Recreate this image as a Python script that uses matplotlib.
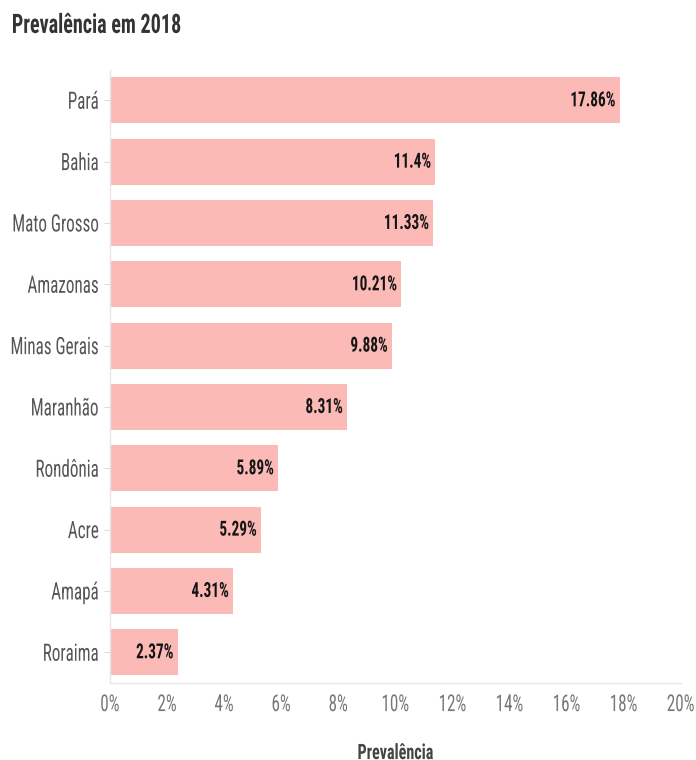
import matplotlib
matplotlib.use("Agg")
import matplotlib.pyplot as plt
from matplotlib import font_manager
from matplotlib.patheffects import AbstractPathEffect
from matplotlib.transforms import Affine2D

names = {f.name for f in font_manager.fontManager.ttflist}
narrow = [n for n in ["Roboto Condensed", "Liberation Sans Narrow", "Roboto"] if n in names]
plt.rcParams['font.family'] = narrow[:1] + ['DejaVu Sans']

states = ["Pará", "Bahia", "Mato Grosso", "Amazonas", "Minas Gerais",
          "Maranhão", "Rondônia", "Acre", "Amapá", "Roraima"]
values = [17.86, 11.4, 11.33, 10.21, 9.88, 8.31, 5.89, 5.29, 4.31, 2.37]
value_labels = ["17.86%", "11.4%", "11.33%", "10.21%", "9.88%",
                "8.31%", "5.89%", "5.29%", "4.31%", "2.37%"]
xticks = [0, 2, 4, 6, 8, 10, 12, 14, 16, 18, 20]
xtick_labels = [f"{t}%" for t in xticks]


class StretchY(AbstractPathEffect):
    """Stretch glyphs vertically around their cap-height middle."""
    def __init__(self, sy):
        super().__init__()
        self.sy = sy

    def draw_path(self, renderer, gc, tpath, affine, rgbFace=None):
        cy = affine.transform((0, 35.5))[1]
        new = affine + Affine2D().translate(0, -cy).scale(1, self.sy).translate(0, cy)
        renderer.draw_path(gc, tpath, new, rgbFace)


fig = plt.figure(figsize=(6.96, 7.6), dpi=100)
ax = fig.add_axes([0.158, 0.1013, 0.82, 0.807])

ypos = list(range(len(states)))
ax.barh(ypos, values, height=0.75, color="#fbbab6", edgecolor="none")
for y, v, lab in zip(ypos, values, value_labels):
    ax.text(v - 0.15, y, lab, ha="right", va="center", fontsize=11,
            fontweight="bold", color="#151515", path_effects=[StretchY(1.36)])

ax.set_ylim(len(states) - 0.5, -0.5)
ax.set_xlim(0, 20)
ax.set_yticks(ypos)
ylabs = ax.set_yticklabels(states, fontsize=12.3, color="#555555")
ax.set_xticks(xticks)
xlabs = ax.set_xticklabels(xtick_labels, fontsize=12.3, color="#777777")
for t in ylabs:
    t.set_path_effects([StretchY(1.4)])
for t in xlabs:
    t.set_path_effects([StretchY(1.36)])
ax.tick_params(axis="y", length=4, color="#dddddd", pad=4)
ax.tick_params(axis="x", length=0, pad=10)
for s in ["top", "right"]:
    ax.spines[s].set_visible(False)
for s in ["left", "bottom"]:
    ax.spines[s].set_color("#e6e6e6")
    ax.spines[s].set_linewidth(1)
ax.set_xlabel("Prevalência", fontsize=11.6, fontweight="bold", color="#444444",
              labelpad=24, path_effects=[StretchY(1.32)])
fig.text(0.017, 0.967, "Prevalência em 2018", fontsize=14.5, fontweight="bold",
         color="#333333", ha="left", va="center", path_effects=[StretchY(1.33)])

fig.savefig("out.png", dpi=100)
